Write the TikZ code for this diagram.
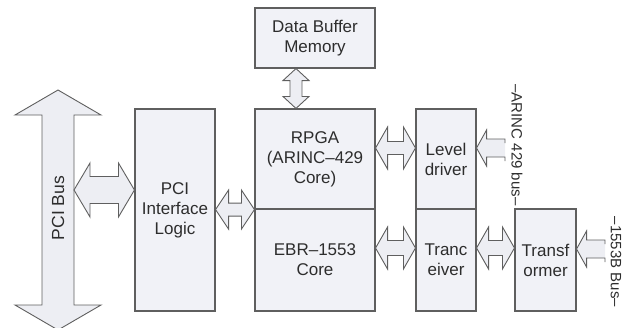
\documentclass[tikz,border=0pt]{standalone}
\usepackage{fontspec}
\setmainfont{Liberation Sans}
\usetikzlibrary{calc}

\definecolor{boxfill}{RGB}{241,242,247}
\definecolor{arrfill}{RGB}{237,238,243}
\definecolor{linegray}{RGB}{95,95,95}
\definecolor{txtgray}{RGB}{45,45,45}

% horizontal fat double arrow: (left tip) (right tip) {head half} {shaft half} {head length}
\newcommand{\hfat}[5]{%
  \draw[fatarrow] #1 -- ++(#5,-#3) -- ++(0,#3-#4) -- ($#2+(-#5,-#4)$) -- ++(0,#4-#3)
    -- #2 -- ++(-#5,#3) -- ++(0,#4-#3) -- ($#1+(#5,#4)$) -- ++(0,#3-#4) -- cycle;}
% vertical fat double arrow: (top tip) (bottom tip) {head half} {shaft half} {head length}
\newcommand{\vfat}[5]{%
  \draw[fatarrow] #1 -- ++(#3,#5) -- ++(#4-#3,0) -- ($#2+(#4,-#5)$) -- ++(#3-#4,0)
    -- #2 -- ++(-#3,-#5) -- ++(#3-#4,0) -- ($#1+(-#4,#5)$) -- ++(#4-#3,0) -- cycle;}
% half fat arrow, head on the left, open end on the right
\newcommand{\halffat}[5]{%
  \draw[fatarrow] ($#2+(0,-#4+4)$) -- ($#2+(0,-#4)$) -- ($#1+(#5,-#4)$) -- ++(0,#4-#3)
    -- #1 -- ++(#5,#3) -- ++(0,#4-#3) -- ($#2+(0,#4)$) -- ++(0,4);}

\begin{document}
\begin{tikzpicture}[x=1pt,y=-1pt,
    blk/.style={draw=linegray,fill=boxfill,line width=1.1pt,inner sep=0pt,align=center,
      text=txtgray,font=\fontsize{17}{20}\selectfont},
    fatarrow/.style={draw=linegray,fill=arrfill,line width=0.9pt,line join=miter},
    buslabel/.style={rotate=-90,text=txtgray,font=\fontsize{15}{18}\selectfont}]
  \useasboundingbox (0,0) rectangle (634,327);

  % PCI bus
  \coordinate (busT) at (58,90);
  \coordinate (busB) at (58,330);
  \vfat{(busT)}{(busB)}{43}{16}{25}
  \node[rotate=90,text=txtgray,font=\fontsize{17.5}{20}\selectfont] (bus) at (58,208) {PCI Bus};
  \coordinate (busR) at (74,190);

  % blocks
  \node[blk,minimum width=120pt,minimum height=60pt]  (dbm)  at (315,38)    {Data Buffer\\Memory};
  \node[blk,minimum width=80pt,minimum height=202pt]  (pci)  at (175,210)   {PCI\\Interface\\Logic};
  \node[blk,minimum width=120pt,minimum height=100pt] (rpga) at (315,159)   {RPGA\\(ARINC–429\\Core)};
  \node[blk,minimum width=120pt,minimum height=102pt] (ebr)  at (315,260)   {EBR–1553\\Core};
  \node[blk,minimum width=60pt,minimum height=100pt]  (lvl)  at (446,159)   {Level\\driver};
  \node[blk,minimum width=60pt,minimum height=102pt]  (trc)  at (446,260)   {Tranc\\eiver};
  \node[blk,minimum width=61pt,minimum height=102pt]  (trf)  at (545.5,260) {Transf\\ormer};

  % bus labels
  \node[buslabel] (arinc) at (517,145) {–ARINC 429 bus–};
  \node[buslabel] (mil)   at (616,262) {–1553B Bus–};
  \coordinate (arincend) at (505,148);
  \coordinate (milend)   at (605,249);

  % connectors
  \hfat{(busR)}{(pci.west |- busR)}{27}{13.5}{16}
  \hfat{(pci.east |- rpga.south)}{(rpga.south west)}{19.5}{6.5}{13}
  \vfat{([xshift=-19pt]dbm.south)}{([xshift=-19pt]rpga.north)}{13}{6}{12}
  \hfat{([yshift=11pt]rpga.east)}{([yshift=11pt]lvl.west)}{21}{6.5}{12}
  \hfat{([yshift=12pt]ebr.east)}{([yshift=12pt]trc.west)}{21}{7.5}{12}
  \hfat{([yshift=12pt]trc.east)}{([yshift=12pt]trf.west)}{21}{7.5}{12}
  \halffat{([yshift=11pt]lvl.east)}{(arincend)}{18}{9}{10}
  \halffat{([yshift=11pt]trf.east)}{(milend)}{18}{9}{10}
\end{tikzpicture}
\end{document}
